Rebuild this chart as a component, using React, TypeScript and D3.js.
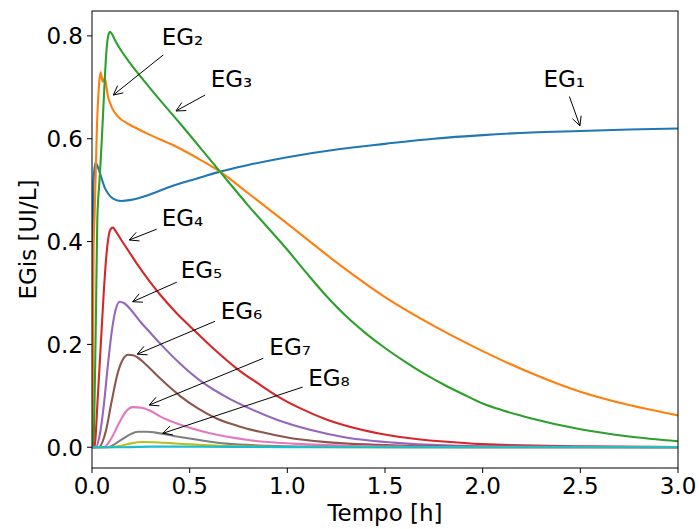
import React from 'react';
import * as d3 from 'd3';

// time [h] / EG concentration [UI/L] pairs
const eg1 = [[0, 0], [0.004, 0.4], [0.008, 0.52], [0.018, 0.553], [0.03, 0.545], [0.045, 0.528], [0.065, 0.505], [0.085, 0.492], [0.11, 0.483], [0.15, 0.479], [0.2, 0.481], [0.3, 0.492], [0.389, 0.505], [0.45, 0.513], [0.55, 0.524], [0.655, 0.536], [0.8, 0.549], [1.0, 0.564], [1.27, 0.58], [1.5, 0.59], [1.75, 0.6], [2.0, 0.607], [2.25, 0.612], [2.5, 0.615], [2.75, 0.618], [3.0, 0.62]];
const eg2 = [[0, 0], [0.002, 0], [0.008, 0.38], [0.014, 0.46], [0.025, 0.62], [0.035, 0.7], [0.044, 0.729], [0.055, 0.711], [0.065, 0.718], [0.082, 0.682], [0.1, 0.662], [0.133, 0.643], [0.18, 0.63], [0.235, 0.619], [0.3, 0.607], [0.389, 0.592], [0.45, 0.581], [0.55, 0.56], [0.655, 0.536], [0.8, 0.494], [1.0, 0.435], [1.25, 0.36], [1.5, 0.292], [1.75, 0.236], [2.0, 0.187], [2.1, 0.169], [2.25, 0.144], [2.5, 0.108], [2.75, 0.082], [3.0, 0.062]];
const eg3 = [[0, 0], [0.006, 0], [0.015, 0.13], [0.021, 0.28], [0.027, 0.44], [0.039, 0.522], [0.051, 0.604], [0.062, 0.69], [0.073, 0.766], [0.083, 0.8], [0.092, 0.808], [0.1, 0.805], [0.12, 0.79], [0.15, 0.771], [0.195, 0.747], [0.3, 0.697], [0.45, 0.63], [0.655, 0.536], [0.8, 0.47], [1.0, 0.384], [1.1, 0.338], [1.2, 0.294], [1.3, 0.255], [1.4, 0.222], [1.5, 0.193], [1.6, 0.167], [1.7, 0.143], [1.8, 0.122], [1.9, 0.103], [2.0, 0.085], [2.1, 0.072], [2.25, 0.056], [2.5, 0.035], [2.75, 0.021], [3.0, 0.0117]];
const eg4 = [[0, 0], [0.012, 0], [0.03, 0.1], [0.045, 0.2], [0.06, 0.3], [0.073, 0.37], [0.085, 0.41], [0.097, 0.425], [0.107, 0.427], [0.12, 0.421], [0.15, 0.403], [0.19, 0.38], [0.235, 0.354], [0.29, 0.325], [0.348, 0.297], [0.43, 0.262], [0.527, 0.226], [0.63, 0.189], [0.741, 0.153], [0.85, 0.124], [0.946, 0.1], [1.07, 0.075], [1.2, 0.054], [1.38, 0.034], [1.577, 0.02], [1.8, 0.011], [2.0, 0.006], [2.5, 0.002], [3.0, 0.0005]];
const eg5 = [[0, 0], [0.02, 0], [0.04, 0.025], [0.06, 0.08], [0.08, 0.155], [0.1, 0.222], [0.12, 0.266], [0.142, 0.283], [0.165, 0.28], [0.2, 0.267], [0.25, 0.243], [0.3, 0.222], [0.348, 0.202], [0.45, 0.163], [0.57, 0.125], [0.7, 0.095], [0.809, 0.075], [0.95, 0.053], [1.116, 0.034], [1.3, 0.019], [1.577, 0.008], [2.0, 0.002], [3.0, 0]];
const eg6 = [[0, 0], [0.035, 0], [0.07, 0.03], [0.1, 0.088], [0.13, 0.142], [0.16, 0.172], [0.184, 0.18], [0.21, 0.179], [0.232, 0.175], [0.27, 0.163], [0.348, 0.134], [0.45, 0.1], [0.54, 0.076], [0.638, 0.056], [0.75, 0.041], [0.86, 0.03], [1.0, 0.019], [1.2, 0.01], [1.6, 0.003], [2.0, 0.001], [3.0, 0]];
const eg7 = [[0, 0], [0.06, 0], [0.1, 0.018], [0.14, 0.048], [0.175, 0.07], [0.21, 0.078], [0.25, 0.077], [0.293, 0.072], [0.348, 0.06], [0.45, 0.044], [0.604, 0.027], [0.8, 0.014], [1.03, 0.007], [1.3, 0.003], [1.6, 0.001], [2.0, 0], [3.0, 0]];
const eg8 = [[0, 0], [0.08, 0], [0.12, 0.007], [0.16, 0.017], [0.2, 0.026], [0.235, 0.03], [0.28, 0.03], [0.348, 0.027], [0.45, 0.02], [0.55, 0.014], [0.69, 0.007], [0.9, 0.003], [1.2, 0.001], [1.6, 0], [3.0, 0]];
const eg9 = [[0, 0], [0.1, 0], [0.15, 0.003], [0.2, 0.0075], [0.26, 0.0102], [0.32, 0.0098], [0.4, 0.008], [0.5, 0.0055], [0.65, 0.003], [0.9, 0.001], [1.3, 0], [3.0, 0]];
const eg10 = [[0, 0], [0.15, 0], [0.3, 0.0012], [0.45, 0.0012], [0.7, 0.0006], [1.2, 0.0001], [3.0, 0]];

const series = [eg1, eg2, eg3, eg4, eg5, eg6, eg7, eg8, eg9, eg10];
const colors = ['#1f77b4', '#ff7f0e', '#2ca02c', '#d62728', '#9467bd', '#8c564b', '#e377c2', '#7f7f7f', '#bcbd22', '#17becf'];

const xTicks = [0, 0.5, 1.0, 1.5, 2.0, 2.5, 3.0];
const yTicks = [0, 0.2, 0.4, 0.6, 0.8];

// annotations: label, text anchor, arrow tail, arrow tip (data coords)
const annLabels = ['EG₁', 'EG₂', 'EG₃', 'EG₄', 'EG₅', 'EG₆', 'EG₇', 'EG₈'];
const annText = [[2.311, 0.7], [0.357, 0.782], [0.608, 0.7], [0.357, 0.43], [0.454, 0.33], [0.659, 0.249], [0.908, 0.18], [1.107, 0.119]];
const annFrom = [[2.444, 0.682], [0.365, 0.763], [0.579, 0.685], [0.331, 0.424], [0.434, 0.321], [0.63, 0.245], [0.877, 0.173], [1.079, 0.117]];
const annTip = [[2.498, 0.625], [0.109, 0.685], [0.43, 0.654], [0.191, 0.403], [0.208, 0.283], [0.232, 0.181], [0.293, 0.082], [0.362, 0.027]];

const W = 699;
const H = 529;
const margin = { top: 11, right: 21, bottom: 61, left: 92 };
const font = 'DejaVu Sans';
const fs = 23;

export default function App() {
  const innerW = W - margin.left - margin.right;
  const innerH = H - margin.top - margin.bottom;

  const ymax = d3.max(series, s => d3.max(s, d => d[1])) as number;
  const pad = ymax * 0.05;

  const x = d3.scaleLinear().domain([0, 3]).range([margin.left, margin.left + innerW]);
  const y = d3.scaleLinear().domain([-pad, ymax + pad]).range([margin.top + innerH, margin.top]);

  const line = d3.line<number[]>()
    .x(d => x(d[0]))
    .y(d => y(d[1]))
    .curve(d3.curveMonotoneX);

  const bottom = margin.top + innerH;

  // open "->" arrow head
  const arrowHead = (x1: number, y1: number, x2: number, y2: number) => {
    const a = Math.atan2(y2 - y1, x2 - x1);
    const len = 9.2, half = 4.6;
    const bx = x2 - len * Math.cos(a), by = y2 - len * Math.sin(a);
    const px = -Math.sin(a) * half, py = Math.cos(a) * half;
    return `M${bx + px},${by + py}L${x2},${y2}L${bx - px},${by - py}`;
  };

  return (
    <svg width={W} height={H} style={{ position: 'absolute', left: 0, top: 0, background: '#fff' }}
      fontFamily={font}>
      <defs>
        <clipPath id="plot">
          <rect x={margin.left} y={margin.top} width={innerW} height={innerH} />
        </clipPath>
      </defs>

      <g clipPath="url(#plot)">
        {series.map((s, i) => (
          <path key={i} d={line(s) as string} fill="none" stroke={colors[i]} strokeWidth={2.1}
            strokeLinejoin="round" strokeLinecap="butt" />
        ))}
      </g>

      {/* annotations */}
      {annLabels.map((lab, i) => {
        const x1 = x(annFrom[i][0]), y1 = y(annFrom[i][1]);
        const x2 = x(annTip[i][0]), y2 = y(annTip[i][1]);
        return (
          <g key={lab}>
            <text x={x(annText[i][0])} y={y(annText[i][1])} fontSize={fs} fill="#000">{lab}</text>
            <line x1={x1} y1={y1} x2={x2} y2={y2} stroke="#000" strokeWidth={1} />
            <path d={arrowHead(x1, y1, x2, y2)} fill="none" stroke="#000" strokeWidth={1} />
          </g>
        );
      })}

      {/* frame */}
      <rect x={margin.left} y={margin.top} width={innerW} height={innerH} fill="none" stroke="#000" strokeWidth={1} />

      {/* x axis */}
      {xTicks.map(t => (
        <g key={'x' + t}>
          <line x1={x(t)} x2={x(t)} y1={bottom} y2={bottom + 5} stroke="#000" strokeWidth={1} />
          <text x={x(t)} y={bottom + 26} textAnchor="middle" fontSize={fs} fill="#000">{d3.format('.1f')(t)}</text>
        </g>
      ))}
      <text x={margin.left + innerW / 2} y={521} textAnchor="middle" fontSize={fs} fill="#000">Tempo [h]</text>

      {/* y axis */}
      {yTicks.map(t => (
        <g key={'y' + t}>
          <line x1={margin.left - 5} x2={margin.left} y1={y(t)} y2={y(t)} stroke="#000" strokeWidth={1} />
          <text x={margin.left - 9} y={y(t)} dy="0.36em" textAnchor="end" fontSize={fs} fill="#000">{d3.format('.1f')(t)}</text>
        </g>
      ))}
      <text transform={`translate(36,${margin.top + innerH / 2}) rotate(-90)`} textAnchor="middle" fontSize={fs} fill="#000">EGis [UI/L]</text>
    </svg>
  );
}
